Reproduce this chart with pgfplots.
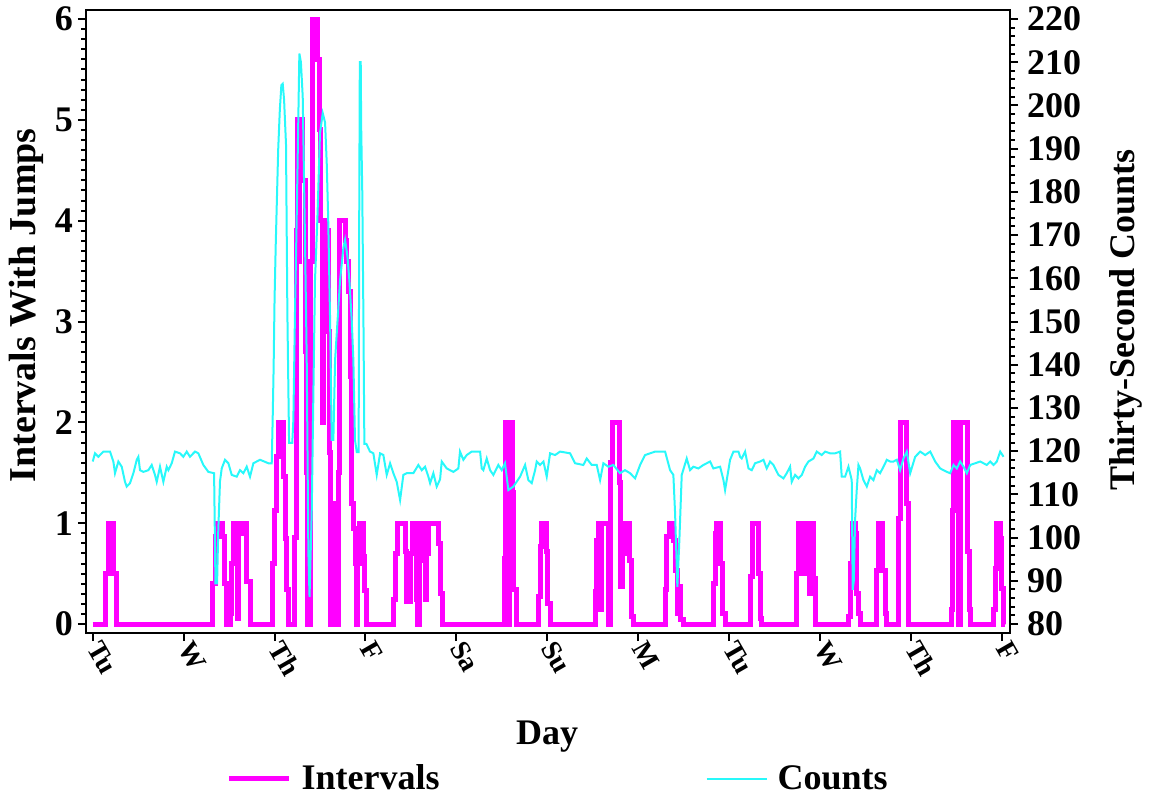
\documentclass[border=0pt]{standalone}
\usepackage{fontspec}
\setmainfont{Liberation Serif}
\usepackage{pgfplots}
\pgfplotsset{compat=1.18}
\definecolor{mag}{RGB}{255,0,255}
\definecolor{cyn}{RGB}{40,248,250}
\begin{document}
\begin{tikzpicture}
\useasboundingbox (-43pt,-83.5pt) rectangle (532.5pt,316.5pt);
\begin{axis}[
  at={(0,0)}, anchor=south west,
  scale only axis, width=462pt, height=311.5pt,
  xmin=-0.074, xmax=10.09, ymin=-0.0893, ymax=6.0893,
  axis line style={-, line width=1pt},
  every tick/.style={black, line width=1pt},
  major tick length=4pt, minor tick length=2.3pt,
  tick align=outside,
  tick pos=left,
  xtick={0,...,10},
  xticklabels={Tu,W,Th,F,Sa,Su,M,Tu,W,Th,F},
  ytick={0,...,6},
  minor y tick num=9,
  /pgf/number format/assume math mode=true,
  yticklabel style={font=\fontsize{18}{20}\selectfont\bfseries, xshift=1pt},
  xticklabel style={font=\fontsize{14}{16}\selectfont\bfseries, rotate=-60, anchor=west, xshift=-2pt},
  xlabel={Day}, ylabel={Intervals With Jumps},
  every axis x label/.style={at={(axis description cs:0.499,-0.167)}, anchor=center, font=\fontsize{18}{20}\selectfont\bfseries},
  every axis y label/.style={at={(axis description cs:-0.065,0.526)}, anchor=center, rotate=90, font=\fontsize{19}{21}\selectfont\bfseries},
  legend columns=2,
  legend style={draw=none, fill=none, at={(axis description cs:0.512,-0.234)}, anchor=center,
    font=\fontsize{18}{20}\selectfont\bfseries,
    /tikz/every odd column/.append style={column sep=3pt},
    /tikz/every even column/.append style={column sep=131pt}},
  legend image code/.code={\draw[#1] (0pt,0pt) -- (30pt,0pt);},
]
\addplot[mag, line width=2.5pt, const plot, forget plot] table {
x v
0 0
0.146 0.5
0.172 1
0.227 0.5
0.264 0
1.32 0.4
1.345 0.87
1.37 1
1.43 0.87
1.45 0.4
1.474 0
1.51 0.1
1.53 0.6
1.55 1
1.587 0.05
1.605 1
1.65 0.9
1.67 1
1.69 0.42
1.73 0
1.975 0.6
1.995 1.13
2.02 1.66
2.04 2.0
2.097 1.46
2.115 0.85
2.133 0.34
2.15 0
2.222 0.86
2.237 3.9
2.255 5.0
2.268 3.6
2.275 5.0
2.31 4.4
2.335 2.7
2.348 1.5
2.365 0
2.40 3.6
2.42 6.0
2.475 5.6
2.49 4.9
2.508 4.0
2.53 2.0
2.538 4.0
2.567 3.9
2.592 2.9
2.60 1.7
2.61 0.8
2.62 0
2.64 1.2
2.655 0.3
2.67 1.0
2.685 0
2.70 1.5
2.717 4.0
2.776 3.8
2.794 3.6
2.812 3.3
2.831 2.45
2.85 1.2
2.867 0.95
2.886 0.6
2.90 0
2.915 0.6
2.93 1.0
2.977 0.67
2.99 0.33
3.014 0
3.307 0.24
3.325 0.7
3.35 1
3.436 0.72
3.447 0.22
3.49 0.7
3.516 1
3.545 0.72
3.556 0.24
3.571 0
3.593 0.77
3.608 1
3.637 0.63
3.655 0.24
3.674 0.7
3.692 1
3.802 0.8
3.821 0.3
3.85 0
4.525 0.65
4.543 2.0
4.565 0
4.583 2.0
4.616 1.3
4.627 0.34
4.657 0
4.902 0.27
4.921 0.77
4.94 1.0
4.987 0.72
5.0 0.2
5.03 0
5.525 0.32
5.544 0.83
5.562 1.0
5.585 0.14
5.6 1.0
5.672 0
5.698 1.6
5.716 2.0
5.789 1.4
5.808 0.37
5.83 0.7
5.848 1.0
5.903 0.63
5.921 0.07
5.947 0
6.296 0.34
6.314 0.87
6.34 1.0
6.387 0.83
6.406 0.53
6.431 0.1
6.453 0.37
6.468 0.04
6.5 0
6.827 0.4
6.849 0.9
6.864 1.0
6.908 0.6
6.93 0.1
6.956 0
7.238 0.47
7.26 1.0
7.322 0.5
7.348 0.05
7.359 0
7.737 0.5
7.763 1.0
7.81 0.5
7.836 1.0
7.885 0.3
7.9 1.0
7.928 0.45
7.95 0
8.313 0.07
8.331 0.6
8.361 1.0
8.386 0.9
8.404 0.3
8.423 0.1
8.441 0
8.625 0.53
8.643 1.0
8.69 0.53
8.716 0.1
8.735 0
8.866 1.05
8.885 2.0
8.955 1.2
8.975 0
9.442 0.14
9.457 1.13
9.468 2.0
9.519 0
9.549 2.0
9.622 0.72
9.644 0.14
9.659 0
9.908 0.14
9.927 0.55
9.945 1.0
9.982 0.85
10.0 0.35
10.02 0
10.03 0
};
\addlegendimage{mag, line width=2.5pt}
\addlegendentry{Intervals}
\addlegendimage{cyn, line width=1pt}
\addlegendentry{Counts}
\end{axis}
\begin{axis}[
  at={(0,0)}, anchor=south west,
  scale only axis, width=462pt, height=311.5pt,
  xmin=-0.074, xmax=10.09, ymin=77.92, ymax=222.08,
  hide x axis,
  axis line style={-, line width=1pt},
  every tick/.style={black, line width=1pt},
  major tick length=4pt, minor tick length=2.3pt,
  tick align=outside,
  ytick pos=right, yticklabel pos=right,
  ytick={80,90,...,220},
  minor y tick num=4,
  /pgf/number format/assume math mode=true,
  yticklabel style={font=\fontsize{18}{20}\selectfont\bfseries, xshift=1pt},
  ylabel={Thirty-Second Counts},
  every axis y label/.style={at={(axis description cs:1.1255,0.502)}, anchor=center, rotate=90, font=\fontsize{18}{20}\selectfont\bfseries},
]
\addplot[cyn, line width=1pt] table {
x c
0 117.6
0.025 119.5
0.062 118.7
0.08 119.1
0.117 119.9
0.19 119.9
0.227 117.6
0.245 114.9
0.282 117.6
0.319 116.4
0.355 112.9
0.374 111.8
0.41 112.6
0.447 114.9
0.484 118.0
0.502 118.7
0.52 115.6
0.557 115.2
0.612 115.6
0.649 116.8
0.685 114.5
0.704 112.9
0.74 116.4
0.777 112.9
0.814 116.4
0.832 115.6
0.869 117.2
0.905 119.9
0.96 119.5
0.997 118.7
1.034 119.9
1.07 118.7
1.125 119.9
1.162 119.5
1.217 116.8
1.272 115.2
1.335 114.9
1.35 89.4
1.368 89.4
1.38 101
1.40 113
1.419 116.0
1.455 118.0
1.492 117.2
1.529 114.5
1.584 114.1
1.62 115.6
1.657 114.9
1.694 116.4
1.73 114.1
1.767 117.2
1.84 118.0
1.887 117.6
1.932 117.2
1.969 117.2
1.98 128
1.99 139.5
2.0 155
2.013 167.7
2.04 189.7
2.058 198.9
2.075 204.7
2.09 205
2.105 201.3
2.126 191
2.141 152.2
2.16 121.9
2.195 121.9
2.207 127.2
2.225 152.2
2.244 174.4
2.262 197.6
2.273 212
2.29 210
2.31 202
2.335 168.9
2.354 141
2.372 96.7
2.385 86.3
2.409 105.9
2.427 133
2.445 159.6
2.471 173.5
2.50 193.6
2.53 198.2
2.556 196
2.574 186.7
2.59 174
2.611 150.3
2.629 122.6
2.647 122.6
2.666 141.1
2.721 159.6
2.757 167
2.776 168.9
2.801 165.2
2.823 159.6
2.849 150.3
2.867 141.1
2.885 122.6
2.904 119.8
2.925 119.8
2.932 178
2.938 210
2.948 210
2.953 195
2.965 180
2.978 150
2.988 121.7
3.01 121.7
3.05 119.9
3.087 119.5
3.124 114.5
3.161 119.5
3.197 119.1
3.234 114.5
3.271 117.2
3.307 114.9
3.344 112.9
3.381 108.7
3.417 114.5
3.454 114.9
3.527 114.9
3.582 116.8
3.619 115.6
3.656 116.4
3.692 114.1
3.711 112.6
3.747 114.9
3.784 111.8
3.821 113.5
3.839 117.6
3.894 116.0
3.967 115.2
4.022 116.0
4.04 119.9
4.077 118.0
4.114 119.1
4.169 119.9
4.261 119.9
4.279 116.0
4.297 115.6
4.334 118.3
4.371 115.6
4.407 114.5
4.462 116.8
4.499 115.6
4.535 117.2
4.572 111.0
4.627 111.8
4.701 114.1
4.756 116.8
4.792 113.3
4.829 112.6
4.866 115.6
4.884 117.6
4.921 116.8
4.958 117.6
4.994 114.1
5.031 119.5
5.086 119.1
5.141 119.9
5.251 119.5
5.306 117.2
5.397 116.8
5.434 118.3
5.489 116.8
5.544 116.8
5.581 113.3
5.617 117.2
5.672 116.4
5.727 116.8
5.8 114.9
5.855 115.6
5.911 114.9
5.966 113.7
6.021 116.8
6.076 119.1
6.131 119.5
6.186 119.9
6.296 119.9
6.351 115.6
6.387 114.5
6.406 105.6
6.431 88.6
6.453 99.4
6.479 114.5
6.534 118.3
6.571 115.6
6.607 116.4
6.662 116.0
6.717 116.8
6.791 117.6
6.827 116.0
6.901 116.4
6.938 113.3
6.956 111.0
6.974 113.3
7.011 118.0
7.048 119.9
7.103 119.9
7.121 118.7
7.139 118.3
7.176 119.9
7.213 116.0
7.249 115.6
7.286 117.2
7.341 117.6
7.378 118.0
7.414 116.0
7.451 117.6
7.488 116.8
7.543 114.5
7.598 113.7
7.634 114.9
7.671 116.4
7.689 112.9
7.726 114.5
7.763 113.7
7.8 114.5
7.836 116.4
7.873 117.6
7.928 118.3
7.964 119.9
8.019 119.1
8.056 119.9
8.111 119.5
8.166 119.5
8.221 119.9
8.239 114.1
8.276 114.1
8.313 116.4
8.349 113.3
8.36 87.9
8.372 90
8.386 104.1
8.404 111.0
8.423 116.8
8.441 116.0
8.478 113.3
8.515 111.8
8.551 114.1
8.588 113.3
8.625 115.6
8.661 114.9
8.698 116.4
8.735 118.0
8.771 117.6
8.808 117.6
8.845 118.0
8.881 115.6
8.918 118.3
8.955 119.9
8.992 114.9
9.047 118.7
9.102 119.9
9.157 119.1
9.212 119.9
9.267 117.6
9.322 116.0
9.395 115.2
9.432 114.9
9.469 116.8
9.505 116.0
9.542 117.6
9.579 116.4
9.615 114.9
9.652 116.8
9.762 117.6
9.835 116.8
9.872 117.6
9.909 116.8
9.945 117.6
9.982 119.9
10.019 118.7
};
\end{axis}
\end{tikzpicture}
\end{document}
